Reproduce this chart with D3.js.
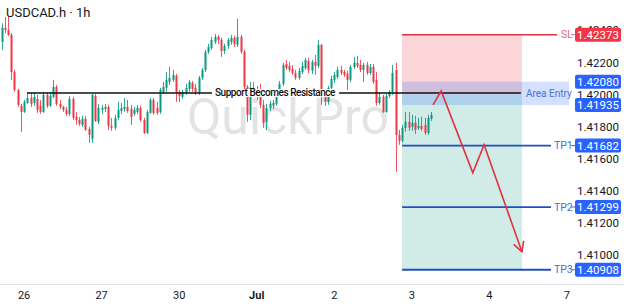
<!DOCTYPE html>
<html><head><meta charset="utf-8">
<script src="https://cdn.jsdelivr.net/npm/d3@7"></script>
<style>body{margin:0;background:#fff;overflow:hidden} svg{display:block;font-family:Roboto, "Noto Sans", sans-serif}</style>
</head><body><svg id="c" width="624" height="306"></svg>
<script>
// ---- data ----
const opens=[1.42328,1.42416,1.42403,1.42372,1.42141,1.42029,1.41930,1.41892,1.41948,1.41979,
1.41948,1.41973,1.41930,1.41892,1.41998,1.41930,1.41986,1.42048,1.41942,1.41923,
1.41905,1.41880,1.41973,1.41861,1.41842,1.41811,1.41849,1.41786,1.41724,1.41992,
1.41830,1.41905,1.41911,1.41923,1.41805,1.41793,1.41855,1.41898,1.41911,1.41923,
1.41911,1.41880,1.41892,1.41917,1.41842,1.41761,1.41886,1.41967,1.41917,1.41892,
1.42017,1.42042,1.42079,1.42092,1.42117,1.42017,1.41986,1.42011,1.42036,1.42073,
1.42042,1.42011,1.42104,1.42154,1.42266,1.42291,1.42328,1.42360,1.42341,1.42272,
1.42303,1.42328,1.42353,1.42310,1.42360,1.42266,1.42048,1.41874,1.42042,1.42011,
1.41998,1.41936,1.41830,1.41917,1.41930,1.41942,1.41998,1.42067,1.42191,1.42179,
1.42160,1.42135,1.42104,1.42141,1.42166,1.42210,1.42148,1.42204,1.42179,1.42310,
1.42017,1.41955,1.42042,1.42092,1.42110,1.42154,1.42141,1.42129,1.42092,1.42173,
1.42198,1.42185,1.42154,1.42185,1.42135,1.42173,1.42092,1.41948,1.41986,1.41892,
1.41992,1.42017,1.42154,1.41749,1.41712,1.41793,1.41830,1.41799,1.41824,1.41793,
1.41805,1.41811,1.41761,1.41849];
const highs=[1.42443,1.42484,1.42490,1.42384,1.42154,1.42036,1.41942,1.41967,1.42011,1.42011,
1.42011,1.41998,1.41967,1.42017,1.42011,1.42017,1.42092,1.42060,1.41967,1.41930,
1.41923,1.41992,1.41986,1.41892,1.41861,1.41867,1.41867,1.41799,1.42004,1.42004,
1.41942,1.41936,1.41942,1.41936,1.41855,1.41874,1.41955,1.41948,1.41979,1.41967,
1.41936,1.41923,1.41936,1.41930,1.41855,1.41905,1.41979,1.41979,1.41955,1.42042,
1.42079,1.42141,1.42173,1.42154,1.42129,1.42029,1.42029,1.42067,1.42092,1.42085,
1.42067,1.42117,1.42166,1.42279,1.42316,1.42360,1.42378,1.42372,1.42353,1.42316,
1.42353,1.42372,1.42366,1.42472,1.42372,1.42279,1.42060,1.42079,1.42079,1.42054,
1.42067,1.41967,1.41942,1.41961,1.41967,1.42029,1.42085,1.42198,1.42216,1.42204,
1.42185,1.42154,1.42166,1.42204,1.42229,1.42229,1.42216,1.42247,1.42341,1.42316,
1.42029,1.42054,1.42117,1.42141,1.42173,1.42179,1.42154,1.42148,1.42185,1.42235,
1.42241,1.42216,1.42198,1.42204,1.42191,1.42191,1.42141,1.42017,1.41998,1.42004,
1.42029,1.42185,1.42198,1.41780,1.41811,1.41892,1.41892,1.41874,1.41867,1.41855,
1.41861,1.41855,1.41874,1.41892];
const lows=[1.42279,1.42384,1.42366,1.42092,1.42017,1.41923,1.41768,1.41886,1.41942,1.41923,
1.41930,1.41886,1.41880,1.41886,1.41917,1.41923,1.41979,1.41930,1.41911,1.41892,
1.41867,1.41867,1.41842,1.41811,1.41805,1.41799,1.41774,1.41699,1.41699,1.41830,
1.41817,1.41880,1.41892,1.41780,1.41774,1.41780,1.41842,1.41880,1.41892,1.41886,
1.41811,1.41867,1.41880,1.41830,1.41755,1.41755,1.41880,1.41874,1.41874,1.41880,
1.42004,1.42017,1.42060,1.42079,1.41955,1.41955,1.41973,1.41998,1.42017,1.42017,
1.41998,1.41998,1.42092,1.42141,1.42254,1.42279,1.42316,1.42316,1.42235,1.42254,
1.42285,1.42310,1.42297,1.42297,1.42254,1.42029,1.41830,1.41842,1.41998,1.41967,
1.41917,1.41793,1.41780,1.41898,1.41911,1.41930,1.41986,1.42054,1.42154,1.42141,
1.42123,1.42092,1.42092,1.42129,1.42154,1.42135,1.42129,1.42123,1.42166,1.41936,
1.41930,1.41936,1.42029,1.42073,1.42098,1.42123,1.42110,1.42029,1.42079,1.42160,
1.42166,1.42141,1.42079,1.42123,1.42123,1.42067,1.41930,1.41936,1.41886,1.41886,
1.41979,1.41998,1.41518,1.41687,1.41699,1.41768,1.41774,1.41774,1.41755,1.41780,
1.41774,1.41749,1.41749,1.41836];
const closes=[1.42416,1.42403,1.42372,1.42141,1.42029,1.41936,1.41892,1.41955,1.41979,1.41942,
1.41986,1.41905,1.41892,1.41998,1.41930,1.41992,1.42048,1.41942,1.41923,1.41905,
1.41880,1.41973,1.41855,1.41842,1.41817,1.41849,1.41780,1.41749,1.41998,1.41836,
1.41917,1.41917,1.41923,1.41805,1.41793,1.41855,1.41905,1.41917,1.41923,1.41898,
1.41861,1.41905,1.41917,1.41842,1.41761,1.41892,1.41967,1.41886,1.41886,1.42029,
1.42048,1.42092,1.42104,1.42123,1.42017,1.41992,1.42017,1.42042,1.42079,1.42036,
1.42011,1.42104,1.42154,1.42266,1.42297,1.42341,1.42360,1.42341,1.42272,1.42303,
1.42341,1.42353,1.42316,1.42360,1.42266,1.42048,1.41874,1.42042,1.42011,1.41986,
1.41936,1.41824,1.41917,1.41942,1.41948,1.42004,1.42067,1.42185,1.42166,1.42154,
1.42135,1.42104,1.42148,1.42179,1.42216,1.42154,1.42204,1.42179,1.42310,1.42017,
1.41955,1.42042,1.42098,1.42123,1.42154,1.42135,1.42123,1.42092,1.42173,1.42198,
1.42179,1.42154,1.42185,1.42135,1.42173,1.42079,1.41948,1.41986,1.41892,1.41992,
1.42017,1.42135,1.41749,1.41712,1.41793,1.41830,1.41793,1.41824,1.41780,1.41805,
1.41786,1.41761,1.41855,1.41874];

const dayTickIdx=[7,31,55,79,103,127,151,175];
const dayTickLabels=["26","27","30","Jul","2","3","4","7"];
const priceTicks=[1.410,1.412,1.414,1.416,1.418,1.420,1.422,1.424];

const levelNames=["SL","TP1","TP2","TP3"];
const levelPrices=[1.42373,1.41682,1.41299,1.40908];
const entryHigh=1.42080, entryLow=1.41935, entryPrice=1.42000;
const supportPrice=1.42010;
const supportLabel="Support Becomes Resistance";
const zigIdx=[133.6,136.1,145.9,149.4,161.1];
const zigPrice=[1.41936,1.42023,1.41512,1.41687,1.41020];
// time anchors (bar index) of drawings
const zoneStart=124.0, zoneEnd=161.1, entryEnd=175.7, supStart=7.9, supEnd=160.8;
const lineEnd={SL:172.0,TP1:170.1,TP2:170.1,TP3:170.1};

// ---- chart ----
const svg=d3.select("#c");
const x=d3.scaleLinear().domain([0,175]).range([1.5,566.8]);
const y=d3.scaleLinear().domain([1.41,1.42]).range([255,94.6]);
const UP="#089981", DN="#f23645";

// watermark
svg.append("text").attr("x",288).attr("y",134).attr("text-anchor","middle")
  .attr("font-size",50).attr("fill","#e3e3e3").text("QuickPro");

// zones
svg.append("rect").attr("x",x(zoneStart)).attr("width",x(zoneEnd)-x(zoneStart))
  .attr("y",y(levelPrices[0])).attr("height",y(entryPrice)-y(levelPrices[0])).attr("fill","#fbd5d8");
svg.append("rect").attr("x",x(zoneStart)).attr("width",x(zoneEnd)-x(zoneStart))
  .attr("y",y(entryPrice)).attr("height",y(levelPrices[3])-y(entryPrice)).attr("fill","#d1ebe7");
svg.append("rect").attr("x",x(zoneStart)).attr("width",x(entryEnd)-x(zoneStart))
  .attr("y",y(entryHigh)).attr("height",y(entryLow)-y(entryHigh)).attr("fill","rgba(41,98,255,0.2)");

// candles
const idx=d3.range(opens.length);
const g=svg.append("g");
g.selectAll("line.w").data(idx).join("line")
  .attr("x1",i=>Math.round(x(i))+0.5).attr("x2",i=>Math.round(x(i))+0.5)
  .attr("y1",i=>y(highs[i])).attr("y2",i=>y(lows[i]))
  .attr("stroke",i=>closes[i]>=opens[i]?UP:DN).attr("stroke-width",1).attr("opacity",0.85);
g.selectAll("rect.b").data(idx).join("rect")
  .attr("x",i=>Math.round(x(i))-0.5).attr("width",2)
  .attr("y",i=>y(Math.max(opens[i],closes[i])))
  .attr("height",i=>Math.max(1,Math.abs(y(opens[i])-y(closes[i]))))
  .attr("fill",i=>closes[i]>=opens[i]?UP:DN);

// support line
svg.append("line").attr("x1",x(supStart)).attr("x2",x(supEnd))
  .attr("y1",y(supportPrice)).attr("y2",y(supportPrice)).attr("stroke","#111").attr("stroke-width",1.6);
const bgR=svg.append("rect").attr("fill","#fff");
const st=svg.append("text").attr("x",275).attr("y",y(supportPrice)).attr("dy","0.35em")
  .attr("text-anchor","middle").attr("font-size",10).attr("letter-spacing",-0.45)
  .attr("font-weight",500).attr("fill","#111").text(supportLabel);
const bb=st.node().getBBox();
bgR.attr("x",bb.x-3).attr("y",y(supportPrice)-4).attr("width",bb.width+6).attr("height",8);

// level lines
levelNames.forEach((n,k)=>{
  const col=n==="SL"?"#e0303f":"#1f4fc4";
  const yy=y(levelPrices[k]);
  svg.append("line").attr("x1",x(zoneStart)).attr("x2",x(lineEnd[n])).attr("y1",yy).attr("y2",yy)
    .attr("stroke",col).attr("stroke-width",n==="SL"?1.5:1.8);
  svg.append("text").attr("x",x(lineEnd[n])+(n==="SL"?4:3)).attr("y",yy).attr("dy","0.35em")
    .attr("font-size",10.5).attr("fill",n==="SL"?"#e56a76":"#3f6ee0").text(n);
  svg.append("line").attr("x1",571).attr("x2",575).attr("y1",yy).attr("y2",yy)
    .attr("stroke",n==="SL"?"#e56a76":"#3f6ee0").attr("stroke-width",1);
});
svg.append("text").attr("x",526).attr("y",y((entryHigh+entryLow)/2)).attr("dy","0.35em")
  .attr("font-size",10).attr("fill","#4a70da").text("Area Entry");

// zigzag arrow
const zz=zigIdx.map((v,i)=>[x(v),y(zigPrice[i])]);
svg.append("path").attr("d",d3.line()(zz)).attr("fill","none").attr("stroke","#e0313f").attr("stroke-width",1.6);
const [ex,ey]=zz[zz.length-1], [px,py]=zz[zz.length-2];
const ang=Math.atan2(ey-py,ex-px), L=11, a=0.5;
svg.append("path").attr("d",d3.line()([[ex-L*Math.cos(ang-a),ey-L*Math.sin(ang-a)],[ex,ey],[ex-L*Math.cos(ang+a),ey-L*Math.sin(ang+a)]]))
  .attr("fill","none").attr("stroke","#e0313f").attr("stroke-width",1.6);

// price axis ticks
svg.selectAll("text.pt").data(priceTicks).join("text").attr("class","pt")
  .attr("x",598).attr("y",d=>y(d)).attr("dy","0.35em").attr("text-anchor","middle")
  .attr("font-size",11.5).attr("fill","#131722").text(d=>d3.format(".5f")(d));

// price label boxes
const boxPrices=[levelPrices[0],entryHigh,entryLow,levelPrices[1],levelPrices[2],levelPrices[3]];
const boxCols=[DN,"#2962ff","#2962ff","#2962ff","#2962ff","#2962ff"];
boxPrices.forEach((p,k)=>{
  svg.append("rect").attr("x",575).attr("y",y(p)-7).attr("width",46).attr("height",14).attr("rx",2).attr("fill",boxCols[k]);
  svg.append("text").attr("x",598).attr("y",y(p)).attr("dy","0.36em").attr("text-anchor","middle")
    .attr("font-size",11.5).attr("fill","#fff").text(d3.format(".5f")(p));
});

// time axis
svg.append("line").attr("x1",0).attr("x2",624).attr("y1",284.5).attr("y2",284.5).attr("stroke","#e0e3eb");
svg.selectAll("text.tt").data(dayTickIdx).join("text").attr("class","tt")
  .attr("x",d=>x(d)).attr("y",295).attr("dy","0.35em").attr("text-anchor","middle")
  .attr("font-size",11).attr("font-weight",(d,i)=>dayTickLabels[i]==="Jul"?700:400)
  .attr("fill","#131722").text((d,i)=>dayTickLabels[i]);

// title
svg.append("text").attr("x",6).attr("y",17).attr("font-size",13).attr("fill","#131722").text("USDCAD.h · 1h");
</script></body></html>
